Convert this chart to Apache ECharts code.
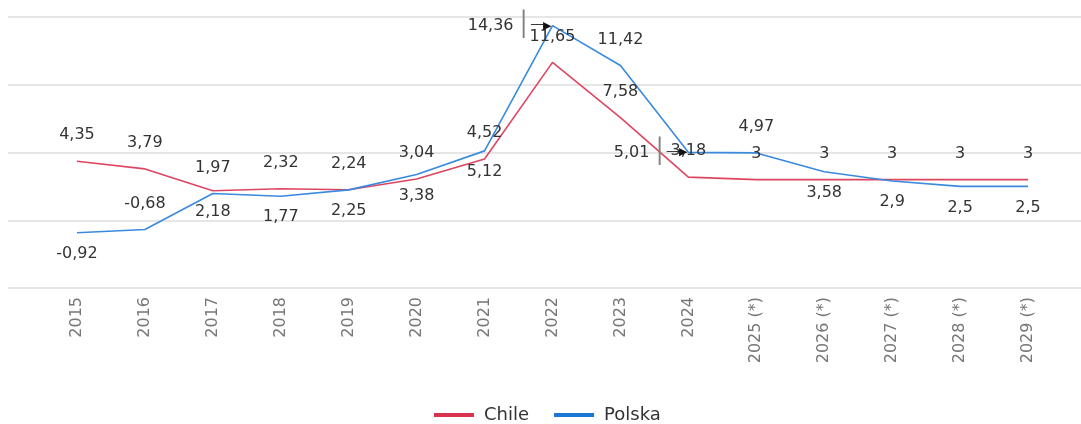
<!DOCTYPE html>
<html>
<head>
<meta charset="utf-8">
<script src="https://cdn.jsdelivr.net/npm/echarts@6/dist/echarts.min.js"></script>
<style>
  html, body { margin: 0; padding: 0; background: #fff; }
  #chart { width: 1081px; height: 424px; }
</style>
</head>
<body>
<div id="chart"></div>
<script>
var years = ['2015', '2016', '2017', '2018', '2019', '2020', '2021', '2022', '2023', '2024',
  '2025 (*)', '2026 (*)', '2027 (*)', '2028 (*)', '2029 (*)'];
var chile = [4.35, 3.79, 2.18, 2.32, 2.25, 3.04, 4.52, 11.65, 7.58, 3.18, 3, 3, 3, 3, 3];
var polska = [-0.92, -0.68, 1.97, 1.77, 2.24, 3.38, 5.12, 14.36, 11.42, 5.01, 4.97, 3.58, 2.9, 2.5, 2.5];

// where each value label sits (above / below / left with arrow)
var chilePos = ['top', 'top', 'bottom', 'top', 'bottom', 'top', 'top', 'top', 'top', 'top', 'top', 'top', 'top', 'top', 'top'];
var polskaPos = ['bottom', 'top', 'top', 'bottom', 'top', 'bottom', 'bottom', 'left', 'top', 'left', 'top', 'bottom', 'bottom', 'bottom', 'bottom'];

var FONT = '"DejaVu Sans", sans-serif';
var RED = '#D9324E';
var BLUE = '#1C76D4';

function fmt(v) {
  return String(v).replace('.', ',');
}

function points(values, pos) {
  return values.map(function (v, i) {
    var p = pos[i];
    var label = { show: true, position: p, distance: p === 'top' ? 17 : 12 };
    if (p === 'left') {
      label.distance = 0;
      label.formatter = function (d) { return '{v|' + fmt(d.value) + '}{bar|│}{sh|──}{hd|▶}'; };
    }
    return { value: v, label: label };
  });
}

var chartDom = document.getElementById('chart');
var myChart = echarts.init(chartDom);
var option;

option = {
  backgroundColor: '#fff',
  animation: false,
  textStyle: { fontFamily: FONT },
  grid: [
    { left: 8, right: 0, top: 17, height: 271 },
    { left: 43, right: 19, top: 17, height: 271 }
  ],
  xAxis: [
    { gridIndex: 0, type: 'value', min: 0, max: 1, show: false },
    {
      gridIndex: 1,
      type: 'category',
      data: years,
      boundaryGap: true,
      axisLine: { show: false },
      axisTick: { show: false },
      axisLabel: {
        rotate: 90,
        interval: 0,
        margin: 9,
        color: '#777',
        fontSize: 16,
        fontFamily: FONT
      }
    }
  ],
  yAxis: [
    {
      gridIndex: 0,
      type: 'value',
      min: -5, max: 15, interval: 5,
      axisLabel: { show: false },
      axisLine: { show: false },
      axisTick: { show: false },
      splitLine: { lineStyle: { color: '#dedede', width: 1.5 } }
    },
    {
      gridIndex: 1,
      type: 'value',
      min: -5, max: 15, interval: 5,
      show: false,
      splitLine: { show: false }
    }
  ],
  legend: {
    left: 429,
    top: 401,
    icon: 'rect',
    itemWidth: 40,
    itemHeight: 4,
    itemGap: 25,
    textStyle: { fontSize: 18, color: '#333', fontFamily: FONT, padding: [0, 0, 0, 5] },
    data: [
      { name: 'Chile', itemStyle: { color: RED } },
      { name: 'Polska', itemStyle: { color: BLUE } }
    ]
  },
  series: [
    {
      name: 'Chile',
      type: 'line',
      xAxisIndex: 1,
      yAxisIndex: 1,
      data: points(chile, chilePos),
      symbol: 'circle',
      symbolSize: 2,
      showSymbol: true,
      itemStyle: { color: 'rgba(0,0,0,0)', borderWidth: 0 },
      lineStyle: { width: 1.6, color: '#DE4660' },
      label: {
        show: true,
        fontSize: 16,
        color: '#333',
        fontFamily: FONT,
        formatter: function (d) { return fmt(d.value); }
      }
    },
    {
      name: 'Polska',
      type: 'line',
      xAxisIndex: 1,
      yAxisIndex: 1,
      data: points(polska, polskaPos),
      symbol: 'circle',
      symbolSize: 2,
      showSymbol: true,
      itemStyle: { color: 'rgba(0,0,0,0)', borderWidth: 0 },
      lineStyle: { width: 1.6, color: '#3A8ADF' },
      label: {
        show: true,
        fontSize: 16,
        color: '#333',
        fontFamily: FONT,
        formatter: function (d) { return fmt(d.value); },
        rich: {
          v: { fontSize: 16, color: '#333', fontFamily: FONT, padding: [0, 3, 0, 0], lineHeight: 26, verticalAlign: 'middle' },
          bar: { fontSize: 24, color: '#808080', fontFamily: FONT, lineHeight: 26, verticalAlign: 'middle' },
          sh: { fontSize: 10, color: '#111', fontFamily: FONT, lineHeight: 26, verticalAlign: 'middle' },
          hd: { fontSize: 11, color: '#111', fontFamily: FONT, lineHeight: 26, verticalAlign: 'middle' }
        }
      }
    }
  ]
};

option && myChart.setOption(option);
</script>
</body>
</html>
